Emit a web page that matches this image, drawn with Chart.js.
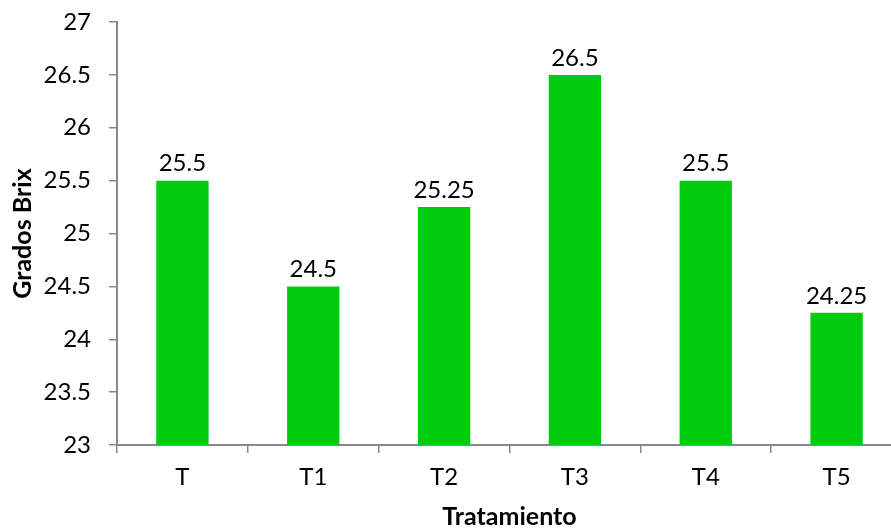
<!DOCTYPE html>
<html>
<head>
<meta charset="utf-8">
<script src="https://cdn.jsdelivr.net/npm/chart.js@4/dist/chart.umd.min.js"></script>
<style>
  html, body { margin: 0; padding: 0; background: #fff; overflow: hidden; }
  #wrap { width: 891px; height: 529px; overflow: hidden; position: relative; }
  #box { width: 920px; height: 529px; position: absolute; left: 0; top: 0; }
</style>
</head>
<body>
<div id="wrap"><div id="box"><canvas id="c"></canvas></div></div>
<script>
const categories = ["T", "T1", "T2", "T3", "T4", "T5"];
const brixValues = [25.5, 24.5, 25.25, 26.5, 25.5, 24.25];
const yMin = 23, yMax = 27, yStep = 0.5;
const xTitle = "Tratamiento";
const yTitle = "Grados Brix";

const FONT = "Lato, 'Open Sans', sans-serif";
const AXIS = "#898989";

const valueLabels = {
  id: 'valueLabels',
  afterDatasetsDraw(chart) {
    const ctx = chart.ctx;
    const meta = chart.getDatasetMeta(0);
    ctx.save();
    ctx.font = "24px " + FONT;
    ctx.fillStyle = "#000";
    ctx.textAlign = "center";
    ctx.textBaseline = "bottom";
    meta.data.forEach((bar, i) => {
      ctx.fillText(String(chart.data.datasets[0].data[i]), bar.x, bar.y - 5);
    });
    ctx.restore();
  }
};

new Chart(document.getElementById('c'), {
  type: 'bar',
  data: {
    labels: categories,
    datasets: [{
      data: brixValues,
      backgroundColor: "#00CC0E",
      borderWidth: 0,
      categoryPercentage: 1.0,
      barPercentage: 0.4
    }]
  },
  options: {
    responsive: true,
    maintainAspectRatio: false,
    animation: false,
    layout: { padding: { top: 22, right: 18, left: 0, bottom: 0 } },
    plugins: { legend: { display: false }, tooltip: { enabled: false } },
    scales: {
      x: {
        grid: { drawOnChartArea: false, drawTicks: true, tickLength: 8, color: AXIS, lineWidth: 1.5, offset: true },
        border: { color: AXIS, width: 2 },
        ticks: { color: "#000", font: { family: FONT, size: 24 }, padding: 10 },
        title: { display: true, text: xTitle, color: "#000", font: { family: FONT, size: 25, weight: 'bold' }, padding: { top: 0, bottom: -3 } },
        afterFit(s) { s.height = 84; s.paddingLeft = 0; s.paddingRight = 0; }
      },
      y: {
        min: yMin, max: yMax,
        grid: { drawOnChartArea: false, drawTicks: true, tickLength: 8, color: AXIS, lineWidth: 1.5 },
        border: { color: AXIS, width: 2 },
        ticks: { stepSize: yStep, color: "#000", font: { family: FONT, size: 24 }, padding: 18,
          callback: v => String(v) },
        title: { display: true, text: yTitle, color: "#000", font: { family: FONT, size: 25, weight: 'bold' }, padding: { top: 8, bottom: 0 } },
        afterFit(s) { s.width = 117; s.paddingTop = 0; s.paddingBottom = 0; }
      }
    }
  },
  plugins: [valueLabels]
});
</script>
</body>
</html>
